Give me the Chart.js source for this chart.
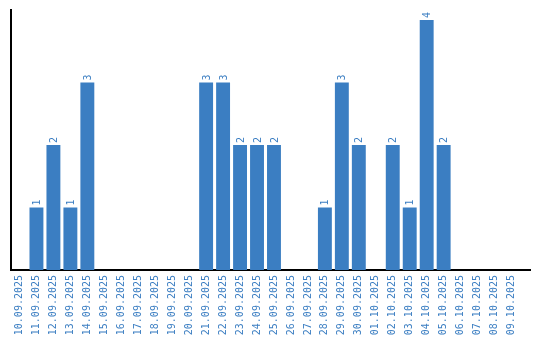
<!DOCTYPE html>
<html>
<head>
<meta charset="utf-8">
<script src="https://cdn.jsdelivr.net/npm/chart.js@4"></script>
<style>
  html, body { margin: 0; padding: 0; background: #ffffff; }
  #wrap { width: 540px; height: 340px; }
</style>
</head>
<body>
<div id="wrap"><canvas id="chart"></canvas></div>
<script>
const dates = [
  "10.09.2025", "11.09.2025", "12.09.2025", "13.09.2025", "14.09.2025",
  "15.09.2025", "16.09.2025", "17.09.2025", "18.09.2025", "19.09.2025",
  "20.09.2025", "21.09.2025", "22.09.2025", "23.09.2025", "24.09.2025",
  "25.09.2025", "26.09.2025", "27.09.2025", "28.09.2025", "29.09.2025",
  "30.09.2025", "01.10.2025", "02.10.2025", "03.10.2025", "04.10.2025",
  "05.10.2025", "06.10.2025", "07.10.2025", "08.10.2025", "09.10.2025"
];
const counts = [0, 1, 2, 1, 3, 0, 0, 0, 0, 0, 0, 3, 3, 2, 2, 2, 0, 0, 1, 3, 2, 0, 2, 1, 4, 2, 0, 0, 0, 0];

const BLUE = "#3b7ec2";
const MONO = "'DejaVu Sans Mono', monospace";

// value labels above each bar, rotated like the axis labels
const barLabels = {
  id: "barLabels",
  afterDatasetsDraw(chart) {
    const ctx = chart.ctx;
    const meta = chart.getDatasetMeta(0);
    ctx.save();
    ctx.fillStyle = BLUE;
    ctx.font = "10px " + MONO;
    ctx.textAlign = "left";
    ctx.textBaseline = "middle";
    meta.data.forEach((bar, i) => {
      if (!counts[i]) return;
      ctx.save();
      ctx.translate(bar.x + 1, bar.y - 2);
      ctx.rotate(-Math.PI / 2);
      ctx.fillText(String(counts[i]), 0, 0);
      ctx.restore();
    });
    ctx.restore();
  }
};

// the x axis line runs a bit past the last category
const axisTail = {
  id: "axisTail",
  afterDraw(chart) {
    const { ctx, chartArea } = chart;
    ctx.save();
    ctx.strokeStyle = "#000000";
    ctx.lineWidth = 2;
    ctx.beginPath();
    ctx.moveTo(chartArea.right - 1, chartArea.bottom);
    ctx.lineTo(chartArea.right + 11, chartArea.bottom);
    ctx.stroke();
    ctx.restore();
  }
};

new Chart(document.getElementById("chart"), {
  type: "bar",
  data: {
    labels: dates,
    datasets: [{
      data: counts,
      backgroundColor: BLUE,
      borderWidth: 0,
      categoryPercentage: 1,
      barPercentage: 0.82
    }]
  },
  options: {
    responsive: true,
    maintainAspectRatio: false,
    animation: false,
    layout: { padding: { left: 10, right: 20, top: 10, bottom: 0 } },
    plugins: {
      legend: { display: false },
      tooltip: { enabled: false }
    },
    scales: {
      x: {
        grid: { display: false, drawTicks: false },
        border: { display: true, color: "#000000", width: 2 },
        ticks: {
          autoSkip: false,
          minRotation: 90,
          maxRotation: 90,
          padding: 5,
          color: BLUE,
          font: { family: MONO, size: 10 }
        },
        afterFit(scale) { scale.height = 70; }
      },
      y: {
        min: 0,
        max: 4.16,
        grid: { display: false, drawTicks: false },
        border: { display: true, color: "#000000", width: 2 },
        ticks: { display: false },
        afterFit(scale) { scale.width = 1; }
      }
    }
  },
  plugins: [barLabels, axisTail]
});
</script>
</body>
</html>
